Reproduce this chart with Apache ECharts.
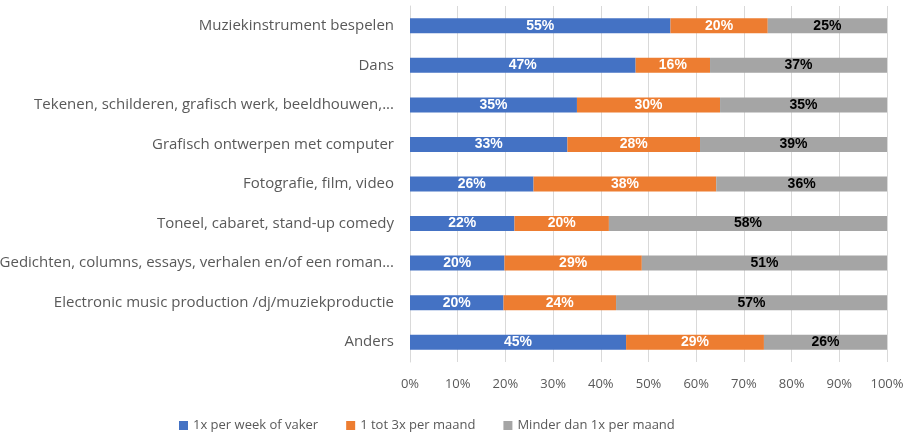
<!DOCTYPE html>
<html><head><meta charset="utf-8">
<script src="https://cdn.jsdelivr.net/npm/echarts@6/dist/echarts.min.js"></script>
<style>html,body{margin:0;padding:0;background:#fff}#c{width:908px;height:432px}</style>
</head><body><div id="c"></div>
<script>
const categories = [
  "Muziekinstrument bespelen",
  "Dans",
  "Tekenen, schilderen, grafisch werk, beeldhouwen,...",
  "Grafisch ontwerpen met computer",
  "Fotografie, film, video",
  "Toneel, cabaret, stand-up comedy",
  "Gedichten, columns, essays, verhalen en/of een roman...",
  "Electronic music production /dj/muziekproductie",
  "Anders"
];
const seriesNames = ["1x per week of vaker", "1 tot 3x per maand", "Minder dan 1x per maand"];
const weekly  = [54.6, 47.3, 35.0, 33.0, 25.9, 21.9, 19.8, 19.6, 45.3];
const monthly = [20.4, 15.6, 30.0, 27.8, 38.3, 19.8, 28.8, 23.6, 28.9];
const less    = [25.0, 37.1, 35.0, 39.2, 35.8, 58.3, 51.4, 56.8, 25.8];
const xTicks = [0, 10, 20, 30, 40, 50, 60, 70, 80, 90, 100];

const colors = ["#4472C4", "#ED7D31", "#A5A5A5"];
const labelColors = ["#fff", "#fff", "#000"];
const font = "Liberation Sans, Arial, sans-serif";
const catFont = "Open Sans, Liberation Sans, sans-serif";
const chart = echarts.init(document.getElementById('c'), null, {renderer: 'canvas'});
const mk = (name, data, i) => ({
  name, type: 'bar', stack: 'total', data, barWidth: 15,
  itemStyle: {color: colors[i]},
  label: {show: true, position: 'inside', color: labelColors[i], fontWeight: 'bold',
          fontSize: 14, fontFamily: font, formatter: p => Math.round(p.value) + '%'}
});
chart.setOption({
  animation: false,
  grid: {left: 410, right: 21, top: 6, bottom: 70, containLabel: false, outerBoundsMode: 'none'},
  legend: {
    top: 414, left: 174, itemWidth: 9, itemHeight: 9, itemGap: 28, icon: 'rect',
    textStyle: {color: '#595959', fontSize: 13, fontFamily: catFont},
    data: seriesNames
  },
  xAxis: {
    type: 'value', min: 0, max: 100, interval: 10,
    axisLabel: {color: '#595959', fontSize: 13, fontFamily: catFont, margin: 16,
                formatter: v => xTicks.includes(v) ? v + '%' : ''},
    splitLine: {show: true, lineStyle: {color: '#D9D9D9', width: 1}},
    axisLine: {show: false}, axisTick: {show: false}
  },
  yAxis: {
    type: 'category', data: categories, inverse: true,
    axisLabel: {color: '#595959', fontSize: 15, fontFamily: catFont, margin: 16},
    axisLine: {show: true, lineStyle: {color: '#D9D9D9'}}, axisTick: {show: false}
  },
  series: [mk(seriesNames[0], weekly, 0), mk(seriesNames[1], monthly, 1), mk(seriesNames[2], less, 2)]
});
</script></body></html>
